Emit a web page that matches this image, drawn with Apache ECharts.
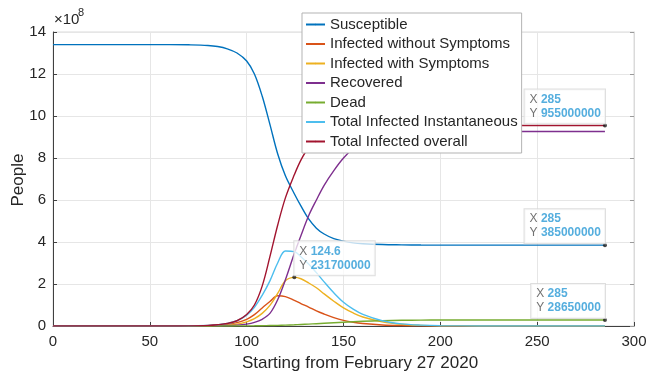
<!DOCTYPE html>
<html>
<head>
<meta charset="utf-8">
<script src="https://cdn.jsdelivr.net/npm/echarts@6/dist/echarts.min.js"></script>
<style>
  html, body { margin: 0; padding: 0; background: #fff; }
  #chart { width: 653px; height: 374px; }
</style>
</head>
<body>
<div id="chart"></div>
<script>
// Days since February 27 2020 at which each compartment is sampled
const days = [0, 40, 60, 70, 80, 85, 90, 95, 100, 104, 108, 112, 116, 120, 124.6, 128, 132, 136, 140, 145, 150, 155, 160, 170, 180, 190, 200, 220, 250, 285];

// Compartment sizes, in units of 1e8 people
const susceptible = [13.4, 13.4, 13.4, 13.39, 13.36, 13.31, 13.2, 13.0, 12.62, 12.0, 10.95, 9.6, 8.2, 7.15, 6.3, 5.72, 5.1, 4.66, 4.38, 4.16, 4.04, 3.96, 3.92, 3.88, 3.865, 3.855, 3.852, 3.85, 3.85, 3.85];
const infectedNoSymptoms = [0, 0, 0.001, 0.004, 0.02, 0.04, 0.08, 0.16, 0.32, 0.54, 0.86, 1.17, 1.44, 1.4, 1.22, 1.07, 0.9, 0.72, 0.57, 0.4, 0.27, 0.18, 0.12, 0.05, 0.02, 0.008, 0.003, 0.001, 0, 0];
const infectedSymptoms = [0, 0, 0, 0.002, 0.01, 0.02, 0.04, 0.09, 0.2, 0.35, 0.6, 0.98, 1.55, 2.15, 2.317, 2.25, 2.05, 1.82, 1.53, 1.18, 0.86, 0.62, 0.43, 0.2, 0.08, 0.032, 0.012, 0.002, 0, 0];
const recovered = [0, 0, 0, 0.001, 0.005, 0.01, 0.02, 0.04, 0.09, 0.17, 0.32, 0.6, 1.25, 2.2, 3.45, 4.3, 5.25, 6.0, 6.7, 7.4, 8.0, 8.45, 8.75, 9.08, 9.2, 9.245, 9.258, 9.262, 9.2635, 9.2635];
const dead = [0, 0, 0, 0, 0, 0.001, 0.002, 0.004, 0.007, 0.01, 0.015, 0.022, 0.03, 0.042, 0.058, 0.072, 0.09, 0.11, 0.13, 0.155, 0.18, 0.205, 0.225, 0.255, 0.272, 0.28, 0.284, 0.2862, 0.2865, 0.2865];
const infectedInstant = [0, 0, 0.002, 0.006, 0.03, 0.06, 0.12, 0.25, 0.52, 0.89, 1.46, 2.15, 3.0, 3.57, 3.54, 3.3, 2.95, 2.54, 2.1, 1.58, 1.13, 0.8, 0.55, 0.25, 0.1, 0.04, 0.015, 0.003, 0, 0];
const infectedOverall = [0, 0, 0.002, 0.008, 0.03, 0.06, 0.12, 0.25, 0.55, 1.0, 1.9, 3.3, 4.8, 6.1, 7.2, 7.9, 8.5, 8.85, 9.1, 9.3, 9.4, 9.46, 9.5, 9.53, 9.545, 9.548, 9.55, 9.55, 9.55, 9.55];

const seriesNames = ['Susceptible', 'Infected without Symptoms', 'Infected with Symptoms', 'Recovered', 'Dead', 'Total Infected Instantaneous', 'Total Infected overall'];
const seriesValues = [susceptible, infectedNoSymptoms, infectedSymptoms, recovered, dead, infectedInstant, infectedOverall];
const seriesColors = ['#0072BD', '#D95319', '#EDB120', '#7E2F8E', '#77AC30', '#4DBEEE', '#A2142F'];

// Data tips: [series index, day]
const dataTips = [[6, 285], [0, 285], [2, 124.6], [4, 285]];

const xTicks = { min: 0, max: 300, step: 50 };
const yTicks = { min: 0, max: 14, step: 2 };
const PEOPLE_UNIT = 1e8;

const FONT = '"Liberation Sans", Arial, Helvetica, sans-serif';
const AXIS_COLOR = '#404040';
const TEXT_COLOR = '#262626';
const GRID_COLOR = '#e6e6e6';
const TIP_FONT_SIZE = 12;
const TIP_PAD = [3, 4, 3, 5];

// Text widths, used to place data-tip boxes that sit left of their point
const measureCtx = document.createElement('canvas').getContext('2d');
function textWidth(str, bold) {
  measureCtx.font = (bold ? 'bold ' : '') + TIP_FONT_SIZE + 'px ' + FONT;
  return measureCtx.measureText(str).width;
}

const chart = echarts.init(document.getElementById('chart'), null, { renderer: 'canvas' });

const lineSeries = seriesNames.map((name, i) => ({
  name: name,
  type: 'line',
  data: days.map((d, k) => [d, seriesValues[i][k]]),
  smooth: 0.35,
  showSymbol: false,
  symbol: 'none',
  lineStyle: { color: seriesColors[i], width: 1.4 },
  itemStyle: { color: seriesColors[i] },
  z: 2 + i,
  animation: false
}));

const tipSeries = dataTips.map(([si, day], n) => {
  const k = days.indexOf(day);
  const y = seriesValues[si][k];
  const people = String(Math.round(y * PEOPLE_UNIT));
  const toRight = day < 200;
  const boxW = TIP_PAD[1] + TIP_PAD[3] + textWidth('Y ', false) +
    Math.max(textWidth(people, true), textWidth(String(day), true));
  return {
    type: 'scatter',
    name: 'tip' + n,
    data: [[day, y]],
    symbol: 'circle',
    symbolSize: 4,
    itemStyle: { color: '#1a1a1a' },
    z: 20,
    animation: false,
    label: {
      show: true,
      position: toRight ? [2, 0] : [2 - boxW, 0],
      align: 'left',
      verticalAlign: 'bottom',
      formatter: '{k|X }{v|' + day + '}\n{k|Y }{v|' + people + '}',
      backgroundColor: 'rgba(255,255,255,0.92)',
      borderColor: '#d6d6d6',
      borderWidth: 1,
      padding: TIP_PAD,
      rich: {
        k: { fontFamily: FONT, fontSize: TIP_FONT_SIZE, color: '#4d4d4d', lineHeight: 14 },
        v: { fontFamily: FONT, fontSize: TIP_FONT_SIZE, fontWeight: 'bold', color: '#2a9ad6', lineHeight: 14 }
      }
    }
  };
});

const option = {
  backgroundColor: '#ffffff',
  animation: false,
  grid: {
    left: 53, right: 19, top: 32, bottom: 48,
    show: true, borderColor: '#dadada', borderWidth: 1, backgroundColor: 'transparent'
  },
  legend: {
    data: seriesNames,
    orient: 'vertical',
    left: 302,
    top: 13,
    padding: [3, 4, 3, 3],
    itemGap: 2.5,
    itemWidth: 19,
    itemHeight: 2,
    backgroundColor: '#ffffff',
    borderColor: '#b3b3b3',
    borderWidth: 1,
    borderRadius: 0,
    selectedMode: false,
    textStyle: { fontFamily: FONT, fontSize: 15, color: TEXT_COLOR, lineHeight: 17 },
    z: 30
  },
  xAxis: [{
    type: 'value',
    min: xTicks.min, max: xTicks.max, interval: xTicks.step,
    axisLine: { show: true, lineStyle: { color: AXIS_COLOR, width: 1 } },
    axisTick: { show: true, inside: true, length: 4, lineStyle: { color: AXIS_COLOR } },
    axisLabel: { fontFamily: FONT, fontSize: 15, color: TEXT_COLOR, margin: 8 },
    splitLine: { show: true, lineStyle: { color: GRID_COLOR, width: 1 } }
  }],
  yAxis: [{
    type: 'value',
    min: yTicks.min, max: yTicks.max, interval: yTicks.step,
    axisLine: { show: true, lineStyle: { color: AXIS_COLOR, width: 1 } },
    axisTick: { show: true, inside: true, length: 4, lineStyle: { color: AXIS_COLOR } },
    axisLabel: { fontFamily: FONT, fontSize: 15, color: TEXT_COLOR, margin: 7 },
    splitLine: { show: true, lineStyle: { color: GRID_COLOR, width: 1 } }
  }, {
    type: 'value',
    position: 'right',
    min: yTicks.min, max: yTicks.max, interval: yTicks.step,
    axisLine: { show: true, lineStyle: { color: '#dadada', width: 1 } },
    axisTick: { show: true, inside: true, length: 4, lineStyle: { color: '#9a9a9a' } },
    axisLabel: { show: false },
    splitLine: { show: false }
  }],
  graphic: [
    {
      type: 'text', left: 54, top: 12, silent: true,
      style: { text: '×10', font: '15px ' + FONT, fill: TEXT_COLOR }
    },
    {
      type: 'text', left: 78, top: 7, silent: true,
      style: { text: '8', font: '11px ' + FONT, fill: TEXT_COLOR }
    },
    {
      type: 'text', silent: true,
      x: 18, y: 180, rotation: Math.PI / 2,
      style: { text: 'People', font: '17px ' + FONT, fill: TEXT_COLOR, textAlign: 'center', textVerticalAlign: 'middle' }
    },
    {
      type: 'text', silent: true,
      x: 360, y: 363,
      style: { text: 'Starting from February 27 2020', font: '17px ' + FONT, fill: TEXT_COLOR, textAlign: 'center', textVerticalAlign: 'middle' }
    }
  ],
  series: lineSeries.concat(tipSeries)
};

chart.setOption(option);
</script>
</body>
</html>
